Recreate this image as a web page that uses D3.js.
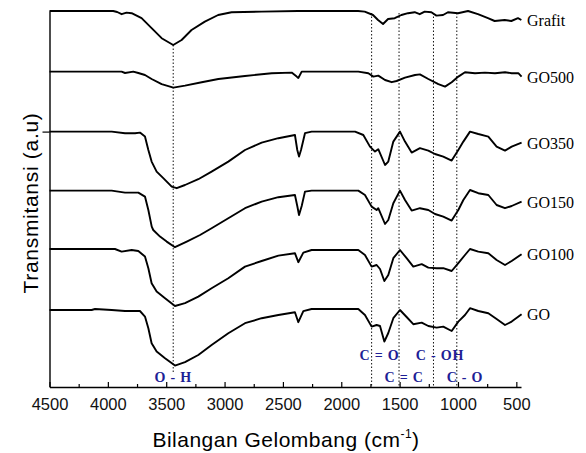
<!DOCTYPE html>
<html><head><meta charset="utf-8">
<script src="https://cdn.jsdelivr.net/npm/d3@7"></script>
<style>body{margin:0;background:#fff}svg{display:block;background:#fff}</style>
</head><body><svg id="c" width="586" height="453"></svg>
<script>
// ---- data (wavenumber cm^-1, transmittance a.u., stacked) ----
const seriesNames = ["Grafit", "GO500", "GO350", "GO150", "GO100", "GO"];

const grafit = [[4500,188],[3954,188],[3920,187.5],[3882,186.4],[3840,187.2],[3796,186.9],[3711,184.4],[3625,179.4],[3539,174.4],[3440,171],[3368,173.5],[3283,178.5],[3169,182.7],[3055,186],[2940,187.4],[2683,187.7],[2370,188],[1856,188],[1799,187.7],[1728,186],[1685,183.5],[1642,181.5],[1599,184],[1542,184.4],[1485,186],[1428,186.9],[1371,187.4],[1328,186.4],[1285,187.7],[1228,187.4],[1185,185.7],[1128,186],[1086,187.4],[1000,186.9],[914,188],[829,186.4],[743,184.4],[686,183],[600,183.5],[543,183],[486,184.4],[457,183.5]];

const go500 = [[4500,157.7],[3882,157.7],[3853,157],[3782,157.7],[3739,157],[3682,156],[3625,154],[3539,151.4],[3439,149.7],[3339,150.7],[3196,152.4],[3053,154],[2825,155.5],[2596,156.9],[2425,157.2],[2382,155.2],[2368,154.5],[2339,157.7],[2254,157.7],[1854,157.7],[1768,156.9],[1725,155.2],[1683,155.7],[1625,153.5],[1568,152.4],[1526,153],[1454,154.7],[1368,156],[1326,156.3],[1254,154],[1168,151.4],[1111,150.2],[1054,152.4],[997,155.2],[940,157.4],[854,156.9],[769,157.2],[683,156.9],[597,157.4],[540,156.9],[483,156.9],[455,155.2]];

const go350 = [[4500,127.7],[3967,127.7],[3853,126.9],[3767,126.9],[3725,127.2],[3682,125.2],[3653,118.5],[3625,112.7],[3582,107.7],[3525,104.4],[3453,100.2],[3410,99.4],[3339,101],[3225,103.9],[3111,107.7],[2968,112.7],[2825,118.5],[2682,122.2],[2539,124.4],[2397,126],[2377,118.5],[2362,115.2],[2345,118.5],[2311,126.9],[2254,127.7],[1882,127.7],[1811,126],[1754,120.2],[1711,117.7],[1683,118.9],[1625,111],[1597,112.7],[1554,122.7],[1497,127.7],[1454,122.7],[1397,117.2],[1326,119.4],[1254,118.2],[1197,116.5],[1126,115.2],[1054,113.2],[997,118.5],[954,122.7],[897,127.7],[826,126.5],[740,125.2],[669,120.2],[597,118.2],[540,120.2],[455,122.2]];

const go150 = [[4500,98.2],[3967,98.2],[3853,97.2],[3739,97.2],[3682,95.2],[3653,88.5],[3624,80.2],[3611,78.5],[3553,75.2],[3496,72.7],[3425,69.9],[3324,72.7],[3210,76],[3111,79.4],[2968,84.4],[2825,89.4],[2682,92.7],[2539,94.9],[2397,96],[2377,90.5],[2362,86],[2339,90.5],[2311,97.7],[2254,98.2],[1854,98.2],[1797,96],[1740,90.2],[1697,88.5],[1683,89.4],[1625,81.5],[1597,83.5],[1554,91.9],[1497,98.2],[1454,93.5],[1397,88.2],[1326,89.4],[1254,88.5],[1197,86.5],[1126,85.2],[1054,83.2],[997,88.5],[954,93.5],[897,98.5],[826,96.9],[740,96],[669,91],[597,89.4],[540,90.5],[455,92.7]];

const go100 = [[4500,69],[3939,69],[3882,67.7],[3796,68.5],[3739,68],[3682,65.2],[3653,59.4],[3625,51.9],[3582,47.7],[3510,44.4],[3425,40.5],[3339,41.9],[3225,45.2],[3111,49.4],[2968,54.4],[2825,60.2],[2682,63],[2539,65.7],[2397,66.9],[2368,62.4],[2325,67.2],[2254,68.5],[1854,68.5],[1797,66],[1740,60.2],[1697,61],[1668,59],[1631,53],[1597,56],[1554,64.4],[1497,68.5],[1440,64.4],[1383,60.2],[1311,61.4],[1254,59.7],[1183,59.4],[1126,59.4],[1054,58],[997,61.9],[940,66],[897,69],[826,67.7],[740,66.9],[669,63.5],[597,61],[540,63],[455,66.4]];

const go = [[4500,38.5],[4139,38.5],[4110,39],[3967,38.5],[3853,38],[3725,38],[3682,35.2],[3653,29.4],[3625,21.9],[3582,17.7],[3510,14.4],[3425,10.7],[3339,12.4],[3225,16],[3111,21],[2968,26.9],[2825,31.9],[2682,34.4],[2539,36],[2397,37.4],[2368,32.4],[2325,37.9],[2254,39],[1854,39],[1797,36],[1740,30.2],[1697,31],[1668,30.5],[1631,22.7],[1597,27],[1554,34.4],[1497,38.5],[1440,35],[1383,31.4],[1311,32.2],[1254,30.5],[1183,29.7],[1126,30.2],[1054,28],[997,32.7],[940,36],[897,39.4],[826,38],[740,36.9],[669,34],[597,31],[540,32.7],[455,36.4]];

const seriesValues = [grafit, go500, go350, go150, go100, go];

const majorTicks = [4500, 4000, 3500, 3000, 2500, 2000, 1500, 1000, 500];
const minorTicks = [4250, 3750, 3250, 2750, 2250, 1750, 1250, 750];
const yTickValues = [127.7];

// band marker lines: [wavenumber, from value, to value]
const bandLines = [[3440, 171, 7], [1740, 187, 0], [1505, 187, 0], [1210, 187, 0], [1010, 187, 0]];
const bandNames = ["O - H", "C = O", "C - OH", "C = C", "C - O"];
const bandLabelWavenumbers = [3440, 1673, 1154, 1462, 940];
const bandLabelValues = [2.5, 13.5, 13.5, 2.5, 2.5];

// ---- drawing ----
const svg = d3.select("#c");
const L = 49.5, R = 521, T = 11, B = 387;
const x = d3.scaleLinear().domain([4500, 460]).range([L, R]);
const y = d3.scaleLinear().domain([0, 188]).range([B, T]);

// dotted band lines
svg.append("g").selectAll("line").data(bandLines).join("line")
  .attr("x1", d => x(d[0])).attr("x2", d => x(d[0]))
  .attr("y1", d => y(d[1])).attr("y2", d => y(d[2]))
  .attr("stroke", "#111").attr("stroke-width", 1)
  .attr("stroke-dasharray", "1.5,2");

// curves
const line = d3.line().x(d => x(d[0])).y(d => y(d[1]));
svg.append("g").selectAll("path").data(seriesValues).join("path")
  .attr("d", line).attr("fill", "none").attr("stroke", "#000")
  .attr("stroke-width", 1.9).attr("stroke-linejoin", "round");

// series labels
svg.append("g").selectAll("text").data(seriesValues).join("text")
  .attr("x", 527).attr("y", d => y(d[d.length - 1][1]) + 6)
  .attr("font-family", "'Liberation Serif', 'Times New Roman', serif")
  .attr("font-size", 16).attr("fill", "#000")
  .text((d, i) => seriesNames[i]);

// band labels
svg.append("g").selectAll("text").data(bandNames).join("text")
  .attr("x", (d, i) => x(bandLabelWavenumbers[i]))
  .attr("y", (d, i) => y(bandLabelValues[i]))
  .attr("text-anchor", "middle")
  .attr("font-family", "'Liberation Serif', 'Times New Roman', serif")
  .attr("font-weight", "bold").attr("font-size", 14)
  .attr("letter-spacing", 0.8)
  .attr("fill", "#1e1e96")
  .style("white-space", "pre")
  .text(d => d);

// axes
const xAxis = svg.append("g").attr("transform", `translate(0,${B})`)
  .call(d3.axisBottom(x).tickValues(majorTicks).tickSizeInner(-5).tickSizeOuter(0).tickPadding(11).tickFormat(d3.format("d")));
xAxis.select(".domain").attr("stroke", "#000").attr("stroke-width", 1.4);
xAxis.selectAll(".tick line").attr("stroke", "#000").attr("stroke-width", 1.2);
xAxis.selectAll("text").attr("font-family", "'Liberation Sans', Arial, sans-serif").attr("font-size", 16.5).attr("fill", "#111");

const xMinor = svg.append("g").attr("transform", `translate(0,${B})`)
  .call(d3.axisBottom(x).tickValues(minorTicks).tickSizeInner(-3).tickSizeOuter(0).tickFormat(""));
xMinor.select(".domain").remove();
xMinor.selectAll(".tick line").attr("stroke", "#000").attr("stroke-width", 1.2);

const yAxis = svg.append("g").attr("transform", `translate(${L},0)`)
  .call(d3.axisLeft(y).tickValues(yTickValues).tickSizeInner(7).tickSizeOuter(0).tickFormat(""));
yAxis.select(".domain").attr("stroke", "#000").attr("stroke-width", 1.4);
yAxis.selectAll(".tick line").attr("stroke", "#000").attr("stroke-width", 1.2);

// axis titles
svg.append("text")
  .attr("transform", `translate(38,${(T + 295) / 2 + 50}) rotate(-90)`)
  .attr("text-anchor", "middle")
  .attr("font-family", "'Liberation Sans', Arial, sans-serif")
  .attr("font-size", 21).attr("letter-spacing", 0.7).attr("fill", "#000")
  .text("Transmitansi (a.u)");

const xt = svg.append("text")
  .attr("x", (148 + 424) / 2).attr("y", 447)
  .attr("text-anchor", "middle")
  .attr("font-family", "'Liberation Sans', Arial, sans-serif")
  .attr("font-size", 21).attr("letter-spacing", 0.5).attr("fill", "#000");
xt.append("tspan").text("Bilangan Gelombang (cm");
xt.append("tspan").attr("font-size", 12).attr("dy", -9).text("-1");
xt.append("tspan").attr("dy", 9).text(")");
</script></body></html>
